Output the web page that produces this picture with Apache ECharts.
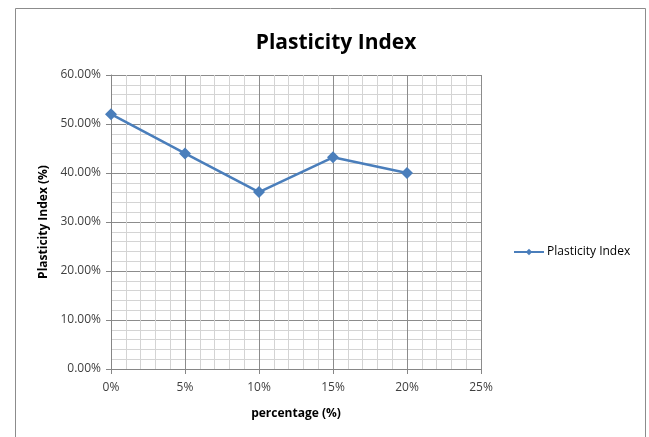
<!DOCTYPE html>
<html>
<head>
<meta charset="utf-8">
<script src="https://cdn.jsdelivr.net/npm/echarts@6/dist/echarts.min.js"></script>
<style>
  html, body { margin: 0; padding: 0; background: #fff; }
  #chart { width: 649px; height: 437px; }
</style>
</head>
<body>
<div id="chart"></div>
<script>
// Plasticity index measured at each additive percentage
const percentages = [0, 0.05, 0.10, 0.15, 0.20];
const plasticityIndex = [0.52, 0.44, 0.361, 0.432, 0.40];
const seriesName = 'Plasticity Index';

const FONT = '"Open Sans", sans-serif';
const pct = (digits) => (v) => (v * 100).toFixed(digits) + '%';

const chart = echarts.init(document.getElementById('chart'));
chart.setOption({
  animation: false,
  backgroundColor: '#fff',
  graphic: [{
    type: 'rect',
    shape: { x: 15.5, y: 8.5, width: 630, height: 440 },
    style: { fill: 'none', stroke: '#8c8c8c', lineWidth: 1 }
  }],
  title: {
    text: 'Plasticity Index',
    left: 331, top: 28, textAlign: 'center',
    textStyle: { fontFamily: FONT, fontSize: 21, fontWeight: 'bold', color: '#000' }
  },
  legend: {
    data: [seriesName],
    left: 508, top: 241, orient: 'vertical',
    itemWidth: 30, itemHeight: 8, itemGap: 4,
    textStyle: { fontFamily: FONT, fontSize: 12, color: '#000', padding: [0, 0, 0, -2] }
  },
  grid: { left: 111, right: 168, top: 75, bottom: 68 },
  xAxis: {
    type: 'value', min: 0, max: 0.25, interval: 0.05,
    name: 'percentage (%)', nameLocation: 'middle', nameGap: 39,
    nameTextStyle: { fontFamily: FONT, fontSize: 12, fontWeight: 'bold', color: '#000' },
    axisLine: { show: true, lineStyle: { color: '#868686' } },
    axisTick: { show: true, length: 5, lineStyle: { color: '#868686' } },
    minorTick: { show: false, splitNumber: 5 },
    axisLabel: { formatter: pct(0), fontFamily: FONT, fontSize: 12, color: '#404040', margin: 13 },
    splitLine: { show: true, lineStyle: { color: '#8c8c8c' } },
    minorSplitLine: { show: true, lineStyle: { color: '#d4d4d4' } }
  },
  yAxis: {
    type: 'value', min: 0, max: 0.6, interval: 0.1,
    name: 'Plasticity Index (%)', nameLocation: 'middle', nameGap: 59,
    nameTextStyle: { fontFamily: FONT, fontSize: 12, fontWeight: 'bold', color: '#000' },
    axisLine: { show: true, lineStyle: { color: '#868686' } },
    axisTick: { show: true, length: 5, lineStyle: { color: '#868686' } },
    minorTick: { show: false, splitNumber: 5 },
    axisLabel: { formatter: pct(2), fontFamily: FONT, fontSize: 12, color: '#404040', margin: 10 },
    splitLine: { show: true, lineStyle: { color: '#8c8c8c' } },
    minorSplitLine: { show: true, lineStyle: { color: '#d4d4d4' } }
  },
  series: [{
    name: seriesName,
    type: 'line',
    data: percentages.map((p, i) => [p, plasticityIndex[i]]),
    symbol: 'diamond', symbolSize: 12,
    itemStyle: { color: '#4a7ebb' },
    lineStyle: { color: '#4a7ebb', width: 2.5 }
  }]
});
</script>
</body>
</html>
